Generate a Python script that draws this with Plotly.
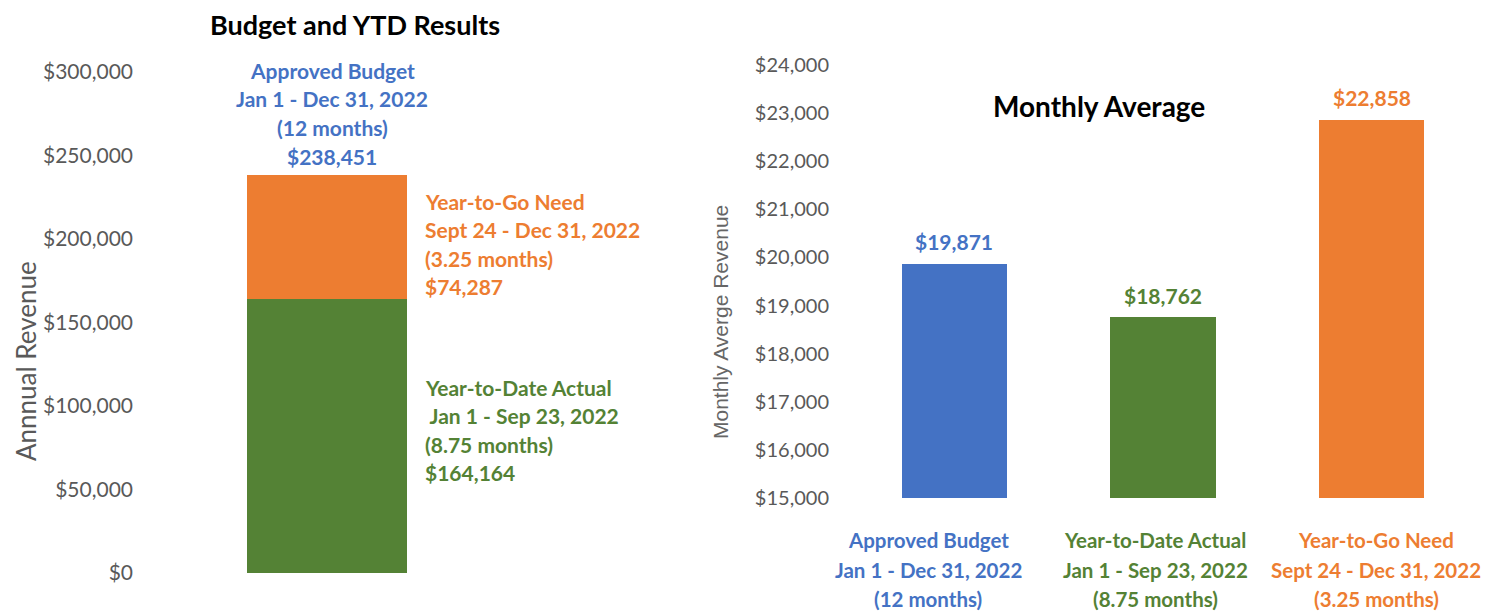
import plotly.graph_objects as go

# page offset (browser body margin) and figure size
OFF = 8
W, H = 1500 - OFF, 614 - OFF

# ---------------- data ----------------
# Left chart: stacked annual revenue
left_segments = ["Year-to-Date Actual", "Year-to-Go Need"]
left_values = [164164, 74287]
left_periods = [" Jan 1 - Sep 23, 2022", "Sept 24 - Dec 31, 2022"]
left_months = ["(8.75 months)", "(3.25 months)"]
left_colors = ["#548235", "#ED7D31"]
budget_label = "Approved Budget"
budget_period = "Jan 1 - Dec 31, 2022"
budget_months = "(12 months)"
budget_color = "#4472C4"
left_yticks = [0, 50000, 100000, 150000, 200000, 250000, 300000]
left_yticktext = ["$0", "$50,000", "$100,000", "$150,000", "$200,000", "$250,000", "$300,000"]

# Right chart: monthly averages
cats = ["Approved Budget", "Year-to-Date Actual", "Year-to-Go Need"]
periods = ["Jan 1 - Dec 31, 2022", "Jan 1 - Sep 23, 2022", "Sept 24 - Dec 31, 2022"]
months = ["(12 months)", "(8.75 months)", "(3.25 months)"]
monthly_avg = [19871, 18762, 22858]
right_colors = ["#4472C4", "#548235", "#ED7D31"]
right_yticks = [15000, 16000, 17000, 18000, 19000, 20000, 21000, 22000, 23000, 24000]
right_yticktext = ["$15,000", "$16,000", "$17,000", "$18,000", "$19,000",
                   "$20,000", "$21,000", "$22,000", "$23,000", "$24,000"]

FONT = "Lato"
GRAY = "#595959"


def px(x):
    return (x - OFF) / W


def py(y):
    return 1 - (y - OFF) / H


fig = go.Figure()

# left stacked bar
for seg, val, col in zip(left_segments, left_values, left_colors):
    fig.add_trace(go.Bar(x=[0], y=[val], name=seg, marker=dict(color=col, line=dict(width=0)),
                         width=1, xaxis="x", yaxis="y", hoverinfo="y"))

# right bars
fig.add_trace(go.Bar(x=cats, y=monthly_avg, marker=dict(color=right_colors, line=dict(width=0)),
                     xaxis="x2", yaxis="y2", hoverinfo="x+y"))

annotations = []


def ann(text, x, y, size, color, xanchor="center", **kw):
    d = dict(text=text, x=px(x), y=py(y), xref="paper", yref="paper", showarrow=False,
             font=dict(family=FONT, size=size, color=color), xanchor=xanchor, yanchor="middle",
             borderpad=0)
    d.update(kw)
    annotations.append(d)


# Titles
ann("<b>Budget and YTD Results</b>", 355, 25, 27, "#000000")
ann("<b>Monthly Average</b>", 1099, 106, 28, "#000000")

# Left chart labels
total = sum(left_values)
budget_lines = [budget_label, budget_period, budget_months, "${:,}".format(total)]
for i, line in enumerate(budget_lines):
    ann("<b>%s</b>" % line, 332, 70 + 28.7 * i, 21, budget_color)

seg_tops = [387, 201]
for seg, per, mon, val, col, top in zip(left_segments, left_periods, left_months, left_values, left_colors, seg_tops):
    lines = [seg, per, mon, "${:,}".format(val)]
    for i, line in enumerate(lines):
        ann("<b>%s</b>" % line.replace(" ", "&nbsp;", 1) if line.startswith(" ") else "<b>%s</b>" % line,
            424, top + 28.6 * i, 21, col, xanchor="left")

# Right chart value labels
for c, v, col in zip(cats, monthly_avg, right_colors):
    annotations.append(dict(text="<b>${:,}</b>".format(v), x=c, y=v, xref="x2", yref="y2",
                            showarrow=False, font=dict(family=FONT, size=21, color=col),
                            xanchor="center", yanchor="middle", yshift=22))

# Right chart category labels
cat_x = [928, 1155, 1376]
for c, per, mon, col, cx in zip(cats, periods, months, right_colors, cat_x):
    for i, line in enumerate([c, per, mon]):
        ann("<b>%s</b>" % line, cx, 540 + 29.5 * i, 20.5, col)

# Axis titles
ann("Annnual Revenue", OFF + 1, 361, 26, GRAY, xanchor="left", textangle=-90)
annotations.append(dict(text="Monthly Averge Revenue", x=px(720), y=py(322), xref="paper", yref="paper",
                        showarrow=False, textangle=-90,
                        font=dict(family="Liberation Sans", size=21, color="#666666"),
                        xanchor="center", yanchor="middle"))

# left plot area geometry
l_left, l_right = 142, 700
bar_left, bar_w = 247, 160
span = (l_right - l_left) / bar_w
x0 = -0.5 - (bar_left - l_left) / bar_w

fig.update_layout(
    width=W, height=H,
    margin=dict(l=0, r=0, t=0, b=0, autoexpand=False),
    paper_bgcolor="white", plot_bgcolor="white",
    barmode="stack",
    bargap=0.496,
    showlegend=False,
    font=dict(family=FONT, color=GRAY),
    xaxis=dict(domain=[px(l_left), px(l_right)], range=[x0, x0 + span], showticklabels=False,
               showgrid=False, zeroline=False, showline=False, ticks="", automargin=False),
    yaxis=dict(domain=[py(573), py(72)], range=[0, 300000], tickvals=left_yticks, ticktext=left_yticktext,
               showgrid=False, zeroline=False, showline=False, ticks="", automargin=False,
               tickfont=dict(family=FONT, size=21, color=GRAY), ticklabelstandoff=8),
    xaxis2=dict(domain=[px(850), px(1476)], range=[-0.5, 2.5], showticklabels=False, anchor="y2",
                showgrid=False, zeroline=False, showline=False, ticks="", automargin=False),
    yaxis2=dict(domain=[py(498), py(65)], range=[15000, 24000], tickvals=right_yticks, ticktext=right_yticktext,
                anchor="x2", showgrid=False, zeroline=False, showline=False, ticks="", automargin=False,
                tickfont=dict(family=FONT, size=20, color=GRAY), ticklabelstandoff=20),
    annotations=annotations,
)

fig.write_html("out.html")
